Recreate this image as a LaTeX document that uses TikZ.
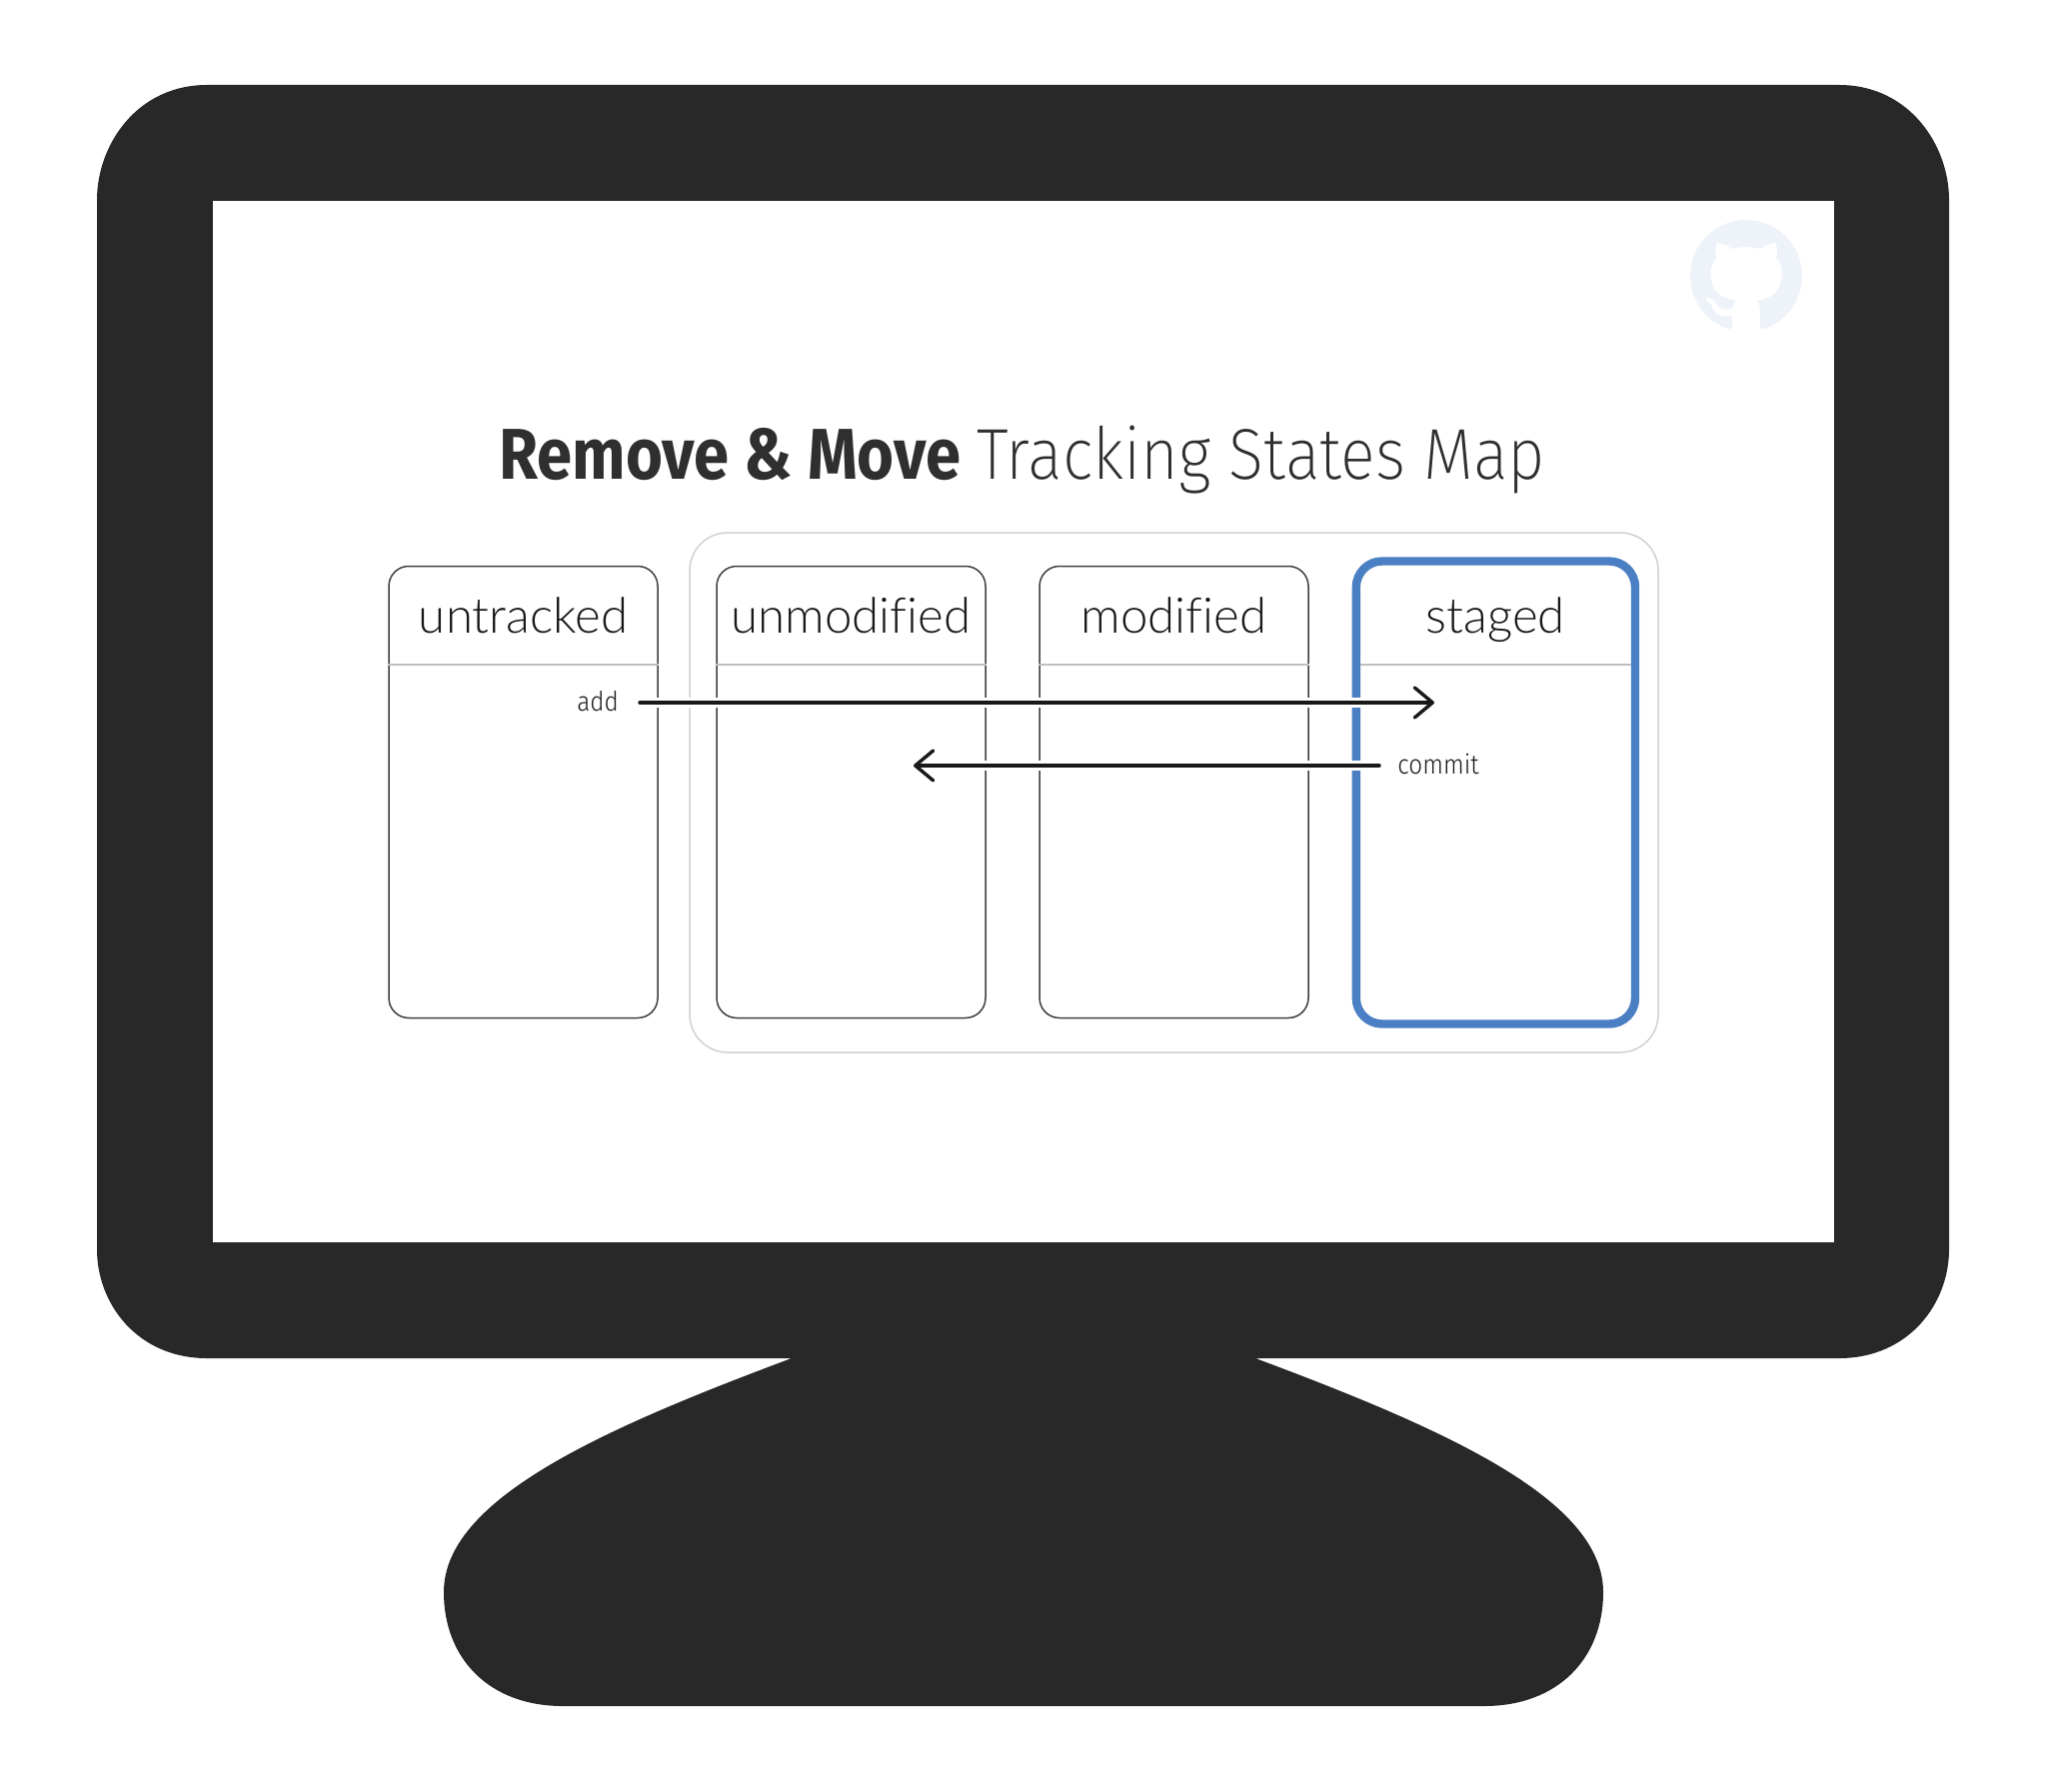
\documentclass[tikz,border=0pt]{standalone}
\usepackage{fontspec}
\usepackage{xcolor}
\usetikzlibrary{arrows.meta, positioning, calc, svg.path}
\newfontfamily\titlebold[FakeStretch=0.88]{Fira Sans Bold}
\newfontfamily\titlelight[FakeStretch=0.9]{Fira Sans ExtraLight}
\newfontfamily\statefont[Ligatures=NoCommon]{Lato Light}
\newfontfamily\cmdfont[FakeStretch=0.9]{Fira Sans Light}
\definecolor{monitorblack}{HTML}{282828}
\definecolor{titlegray}{HTML}{2F2F2F}
\definecolor{stagedblue}{HTML}{4B7FC4}
\definecolor{logopale}{HTML}{EEF2F9}
\tikzset{
    statebox/.style = {draw=black!75, line width=0.75pt, rounded corners=10pt,
        minimum width=134.5pt, minimum height=226pt, inner sep=0pt},
    stagedbox/.style = {draw=stagedblue, line width=4.2pt, rounded corners=13pt,
        minimum width=139.6pt, minimum height=231.5pt, inner sep=0pt},
    groupbox/.style = {draw=black!18, line width=0.75pt, rounded corners=19pt,
        minimum width=484.5pt, minimum height=260pt, inner sep=0pt},
    divider/.style = {draw=black!25, line width=0.75pt},
    statelabel/.style = {font=\statefont\fontsize{24.6}{28}\selectfont, text=black!90, anchor=base},
    cmdlabel/.style = {font=\cmdfont\fontsize{13.5}{15}\selectfont, text=black!90, anchor=base},
    halo/.style = {draw=white, line width=5pt},
    flow/.style = {draw=black!90, line width=1.7pt, line cap=round,
        -{Straight Barb[length=9pt, width=15pt, line width=1.7pt, round]}},
}
\begin{document}
\begin{tikzpicture}[x=0.5pt, y=-0.5pt]
    \useasboundingbox (0,0) rectangle (2048,1792);
    % monitor
    \fill[monitorblack] (207,85) -- (1840,85)
        .. controls (1910,85) and (1950,145) .. (1950,200)
        -- (1950,1250)
        .. controls (1950,1305) and (1909,1359) .. (1840,1359)
        -- (1256,1359)
        .. controls (1446,1430) and (1604,1500) .. (1604,1593)
        .. controls (1604,1660) and (1558,1707) .. (1485,1707)
        -- (563,1707)
        .. controls (490,1707) and (444,1660) .. (444,1593)
        .. controls (444,1500) and (602,1430) .. (792,1359)
        -- (207,1359)
        .. controls (138,1359) and (97,1305) .. (97,1250)
        -- (97,200)
        .. controls (97,145) and (137,85) .. (207,85) -- cycle;
    \node (screen) [fill=white, inner sep=0pt, minimum width=811pt, minimum height=521pt] at (1024,722) {};
    % logo
    \begin{scope}[shift={(1691,220)}, xscale=3.5, yscale=-3.5]
        \fill[logopale] svg {M8 0 C3.58 0 0 3.58 0 8 c0 3.54 2.29 6.53 5.47 7.59 0.4 0.07 0.55 -0.17 0.55 -0.38 0 -0.19 -0.01 -0.82 -0.01 -1.49 -2.01 0.37 -2.53 -0.49 -2.69 -0.94 -0.09 -0.23 -0.48 -0.94 -0.82 -1.13 -0.28 -0.15 -0.68 -0.52 -0.01 -0.53 0.63 -0.01 1.08 0.58 1.23 0.82 0.72 1.21 1.87 0.87 2.33 0.66 0.07 -0.52 0.28 -0.87 0.51 -1.07 -1.78 -0.2 -3.64 -0.89 -3.64 -3.95 0 -0.87 0.31 -1.59 0.82 -2.15 -0.08 -0.2 -0.36 -1.02 0.08 -2.12 0 0 0.67 -0.21 2.2 0.82 0.64 -0.18 1.32 -0.27 2 -0.27 0.68 0 1.36 0.09 2 0.27 1.53 -1.04 2.2 -0.82 2.2 -0.82 0.44 1.1 0.16 1.92 0.08 2.12 0.51 0.56 0.82 1.27 0.82 2.15 0 3.07 -1.87 3.75 -3.65 3.95 0.29 0.25 0.54 0.73 0.54 1.48 0 1.07 -0.01 1.93 -0.01 2.2 0 0.21 0.15 0.46 0.55 0.38 A8.013 8.013 0 0 0 16 8 c0 -4.42 -3.58 -8 -8 -8 z};
    \end{scope}
    % title
    \node (title) [anchor=base, text=titlegray, font=\fontsize{36}{40}\selectfont] at (1023,479)
        {{\titlebold Remove \& Move}\hspace{-3pt} {\titlelight Tracking States Map}};
    % state boxes
    \node (tracked) [groupbox] at (1174.5,793) {};
    \node (untracked) [statebox] at (523.5,792.5) {};
    \node (unmodified) [statebox] at (851.5,792.5) {};
    \node (modified) [statebox] at (1174.5,792.5) {};
    \node (staged) [stagedbox] at (1496.4,793) {};
    \node (untrackedtxt) [statelabel] at (523.5,633) {untracked};
    \node (unmodifiedtxt) [statelabel] at (851.5,633) {unmodified};
    \node (modifiedtxt) [statelabel] at (1174.5,633) {modified};
    \node (stagedtxt) [statelabel] at (1496.4,633) {staged};
    \draw[divider] (untracked.west |- 0,665) -- (untracked.east |- 0,665);
    \draw[divider] (unmodified.west |- 0,665) -- (unmodified.east |- 0,665);
    \draw[divider] (modified.west |- 0,665) -- (modified.east |- 0,665);
    \draw[divider, shorten <=4pt, shorten >=4pt] (staged.west |- 0,665) -- (staged.east |- 0,665);
    % commands
    \coordinate (addstart) at (640,703);
    \coordinate (addend) at (1435,703);
    \coordinate (commitstart) at (1380,766);
    \coordinate (commitend) at (914,766);
    \draw[halo] (addstart) -- (addend);
    \draw[halo] (commitstart) -- (commitend);
    \draw[flow] (addstart) -- (addend);
    \draw[flow] (commitstart) -- (commitend);
    \node (addtxt) [cmdlabel] at (598,711) {add};
    \node (committxt) [cmdlabel] at (1439,774) {commit};
\end{tikzpicture}
\end{document}
